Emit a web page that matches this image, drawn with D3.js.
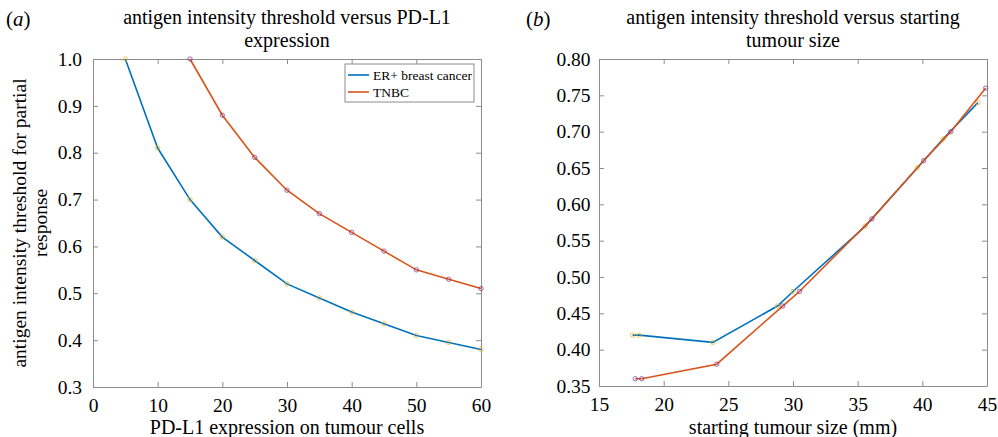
<!DOCTYPE html>
<html>
<head>
<meta charset="utf-8">
<script src="https://cdn.jsdelivr.net/npm/d3@7"></script>
<style>
  body { margin: 0; background: #fff; }
  svg { display: block; }
  svg text { font-family: "Liberation Serif", "Times New Roman", serif; }
</style>
</head>
<body>
<script>
// ---- data ----
var pdl1 = [5, 10, 15, 20, 25, 30, 35, 40, 45, 50, 55, 60];
var erPdl1 = [1.0, 0.81, 0.70, 0.62, 0.57, 0.52, 0.49, 0.46, 0.435, 0.41, 0.395, 0.38];
var tnbcPdl1X = [15, 20, 25, 30, 35, 40, 45, 50, 55, 60];
var tnbcPdl1 = [1.0, 0.88, 0.79, 0.72, 0.67, 0.63, 0.59, 0.55, 0.53, 0.51];

var erSize = [17.6, 18.1, 23.8, 28.8, 30.0, 35.6, 39.6, 41.6, 44.3];
var erSizeY = [0.42, 0.42, 0.41, 0.46, 0.48, 0.57, 0.65, 0.69, 0.74];
var tnbcSize = [17.8, 18.3, 24.1, 29.2, 30.5, 36.1, 40.1, 42.2, 44.9];
var tnbcSizeY = [0.36, 0.36, 0.38, 0.46, 0.48, 0.58, 0.66, 0.70, 0.76];

var ticksA_x = [0, 10, 20, 30, 40, 50, 60];
var ticksA_y = [0.3, 0.4, 0.5, 0.6, 0.7, 0.8, 0.9, 1.0];
var ticksB_x = [15, 20, 25, 30, 35, 40, 45];
var ticksB_y = [0.35, 0.40, 0.45, 0.50, 0.55, 0.60, 0.65, 0.70, 0.75, 0.80];

var blue = "#0072BD", orange = "#D95319", yellow = "#EDB120", purple = "#7E2F8E";

var svg = d3.select("body").append("svg")
    .attr("width", 998)
    .attr("height", 437);

function zip(xs, ys) {
    return xs.map(function (d, i) { return [d, ys[i]]; });
}

function panel(opt) {
    var x = d3.scaleLinear().domain(opt.xdom).range([opt.left, opt.right]);
    var y = d3.scaleLinear().domain(opt.ydom).range([opt.bottom, opt.top]);
    var g = svg.append("g");

    // frame axes, ticks pointing inward on all four sides
    function style(a) {
        a.attr("font-family", null).attr("font-size", null);
        a.selectAll("path").attr("stroke", "#8c8c8c");
        a.selectAll("line").attr("stroke", "#8c8c8c");
        a.selectAll("text").attr("fill", "#000").style("font-size", "19.5px");
    }
    style(g.append("g").attr("transform", "translate(0," + opt.bottom + ")")
        .call(d3.axisBottom(x).tickValues(opt.xt).tickSizeInner(-5).tickSizeOuter(0).tickPadding(11)));
    style(g.append("g").attr("transform", "translate(0," + opt.top + ")")
        .call(d3.axisTop(x).tickValues(opt.xt).tickSizeInner(-5).tickSizeOuter(0).tickFormat("")));
    style(g.append("g").attr("transform", "translate(" + opt.left + ",0)")
        .call(d3.axisLeft(y).tickValues(opt.yt).tickSizeInner(-5).tickSizeOuter(0)
            .tickPadding(opt.ypad).tickFormat(d3.format(opt.yfmt))));
    style(g.append("g").attr("transform", "translate(" + opt.right + ",0)")
        .call(d3.axisRight(y).tickValues(opt.yt).tickSizeInner(-5).tickSizeOuter(0).tickFormat("")));

    var line = d3.line().x(function (d) { return x(d[0]); }).y(function (d) { return y(d[1]); });

    opt.series.forEach(function (s) {
        g.append("path").datum(s.pts)
            .attr("d", line).attr("fill", "none")
            .attr("stroke", s.color).attr("stroke-width", 1.6);
        g.selectAll(null).data(s.pts).enter().append("circle")
            .attr("cx", function (d) { return x(d[0]); })
            .attr("cy", function (d) { return y(d[1]); })
            .attr("r", 2.2).attr("fill", "none")
            .attr("stroke", s.marker).attr("stroke-opacity", 0.7).attr("stroke-width", 1);
    });

    var cx = (opt.left + opt.right) / 2;
    g.append("text").attr("x", cx).attr("y", 24).attr("text-anchor", "middle")
        .style("font-size", "20px").text(opt.title[0]);
    g.append("text").attr("x", cx).attr("y", 47).attr("text-anchor", "middle")
        .style("font-size", "20px").text(opt.title[1]);
    g.append("text").attr("x", cx).attr("y", 434).attr("text-anchor", "middle")
        .style("font-size", "20px").text(opt.xlabel);

    var pl = g.append("text").attr("x", opt.tagX).attr("y", 26).style("font-size", "21px");
    pl.append("tspan").text("(");
    pl.append("tspan").style("font-style", "italic").text(opt.tag);
    pl.append("tspan").text(")");

    return {x: x, y: y, g: g};
}

var a = panel({
    left: 93, right: 481, top: 59, bottom: 387,
    xdom: [0, 60], ydom: [0.3, 1.0], xt: ticksA_x, yt: ticksA_y, yfmt: ".1f", ypad: 11,
    title: ["antigen intensity threshold versus PD-L1", "expression"],
    xlabel: "PD-L1 expression on tumour cells",
    tag: "a", tagX: 6,
    series: [
        {pts: zip(pdl1, erPdl1), color: blue, marker: yellow},
        {pts: zip(tnbcPdl1X, tnbcPdl1), color: orange, marker: purple}
    ]
});

// y label (panel a)
var ylab = svg.append("g").attr("transform", "translate(26,223) rotate(-90)");
ylab.append("text").attr("text-anchor", "middle").attr("y", 0)
    .style("font-size", "19.5px").text("antigen intensity threshold for partial");
ylab.append("text").attr("text-anchor", "middle").attr("y", 21)
    .style("font-size", "19.5px").text("response");

// legend (panel a)
var leg = a.g.append("g").attr("transform", "translate(345,64)");
leg.append("rect").attr("width", 129).attr("height", 38)
    .attr("fill", "#fff").attr("stroke", "#8c8c8c").attr("stroke-width", 1);
[["ER+ breast cancer", blue], ["TNBC", orange]].forEach(function (d, i) {
    leg.append("line").attr("x1", 3).attr("x2", 24)
        .attr("y1", 11 + i * 17).attr("y2", 11 + i * 17)
        .attr("stroke", d[1]).attr("stroke-width", 1.6);
    leg.append("text").attr("x", 28).attr("y", 15.5 + i * 17)
        .style("font-size", "13.5px").text(d[0]);
});

panel({
    left: 599, right: 987, top: 59, bottom: 386,
    xdom: [15, 45], ydom: [0.35, 0.80], xt: ticksB_x, yt: ticksB_y, yfmt: ".2f", ypad: 8.5,
    title: ["antigen intensity threshold versus starting", "tumour size"],
    xlabel: "starting tumour size (mm)",
    tag: "b", tagX: 526,
    series: [
        {pts: zip(erSize, erSizeY), color: blue, marker: yellow},
        {pts: zip(tnbcSize, tnbcSizeY), color: orange, marker: purple}
    ]
});
</script>
</body>
</html>
